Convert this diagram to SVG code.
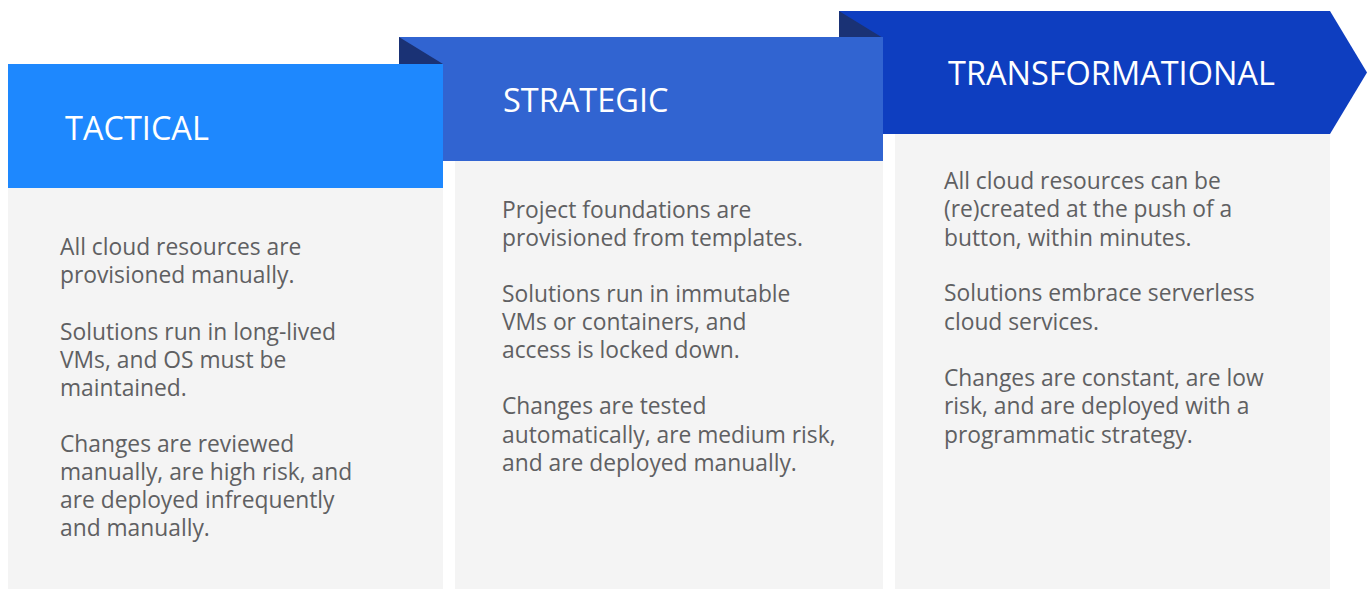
<svg xmlns="http://www.w3.org/2000/svg" width="1370" height="589" viewBox="0 0 1370 589">
<style>
.body{fill:#f4f4f4}
.fold{fill:#1a3275}
.head{font-family:"Open Sans","Liberation Sans",sans-serif;font-size:32.5px;fill:#ffffff}
.txt{font-family:"Open Sans","Liberation Sans",sans-serif;font-size:22.8px;fill:#5f6062}
</style>
<rect width="1370" height="589" fill="#ffffff"/>
<g id="transformational">
<rect class="body" x="895" y="134" width="435" height="455"/>
<polygon points="839,11 1330,11 1367,72.5 1330,134 839,134" fill="#0e3ec0"/>
<polygon class="fold" points="839,11 883,38 839,38"/>
<text class="head" x="948" y="85">TRANSFORMATIONAL</text>
<text class="txt" x="944"><tspan x="944" y="189">All cloud resources can be</tspan><tspan x="944" y="217">(re)created at the push of a</tspan><tspan x="944" y="246">button, within minutes.</tspan><tspan x="944" y="301">Solutions embrace serverless</tspan><tspan x="944" y="330">cloud services.</tspan><tspan x="944" y="386">Changes are constant, are low</tspan><tspan x="944" y="414">risk, and are deployed with a</tspan><tspan x="944" y="443">programmatic strategy.</tspan></text>
</g>
<g id="strategic">
<rect class="body" x="455" y="161" width="428" height="428"/>
<rect x="399" y="37" width="484" height="124" fill="#3164d1"/>
<polygon class="fold" points="399,37 443,64 399,64"/>
<text class="head" x="503" y="112">STRATEGIC</text>
<text class="txt"><tspan x="502" y="218">Project foundations are</tspan><tspan x="502" y="246">provisioned from templates.</tspan><tspan x="502" y="302">Solutions run in immutable</tspan><tspan x="502" y="330">VMs or containers, and</tspan><tspan x="502" y="358">access is locked down.</tspan><tspan x="502" y="414">Changes are tested</tspan><tspan x="502" y="443">automatically, are medium risk,</tspan><tspan x="502" y="471">and are deployed manually.</tspan></text>
</g>
<g id="tactical">
<rect class="body" x="8" y="188" width="435" height="401"/>
<rect x="8" y="64" width="435" height="124" fill="#1e88fe"/>
<text class="head" x="65" y="140">TACTICAL</text>
<text class="txt"><tspan x="60" y="255">All cloud resources are</tspan><tspan x="60" y="283">provisioned manually.</tspan><tspan x="60" y="340">Solutions run in long-lived</tspan><tspan x="60" y="368">VMs, and OS must be</tspan><tspan x="60" y="396">maintained.</tspan><tspan x="60" y="452">Changes are reviewed</tspan><tspan x="60" y="480">manually, are high risk, and</tspan><tspan x="60" y="508">are deployed infrequently</tspan><tspan x="60" y="536">and manually.</tspan></text>
</g>
<g id="connectors"></g>
</svg>
